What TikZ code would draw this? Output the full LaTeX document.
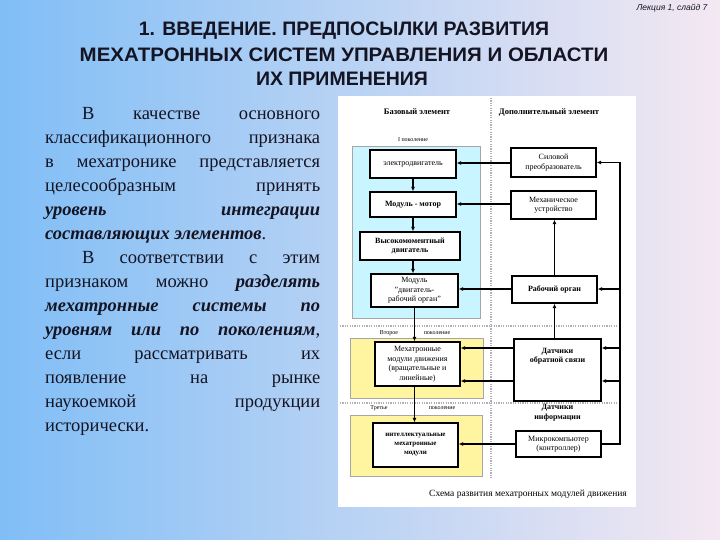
\documentclass[tikz,border=0pt]{standalone}
\usepackage{fontspec}
\setmainfont{Liberation Serif}
\setsansfont{Liberation Sans}
\usetikzlibrary{arrows.meta}
\definecolor{bgL}{RGB}{128,190,246}
\definecolor{bgR}{RGB}{244,232,242}
\definecolor{cyanreg}{RGB}{200,245,255}
\definecolor{yelreg}{RGB}{255,244,160}
\definecolor{txt}{RGB}{20,20,35}
\definecolor{dotc}{RGB}{175,175,185}
\begin{document}
\begin{tikzpicture}[x=1pt,y=-1pt,
  ln/.style={anchor=base west, inner sep=0, text=txt, font=\fontsize{18.5}{22}\selectfont},
  ttl/.style={inner sep=0, text=txt, font=\sffamily\bfseries\fontsize{19.5}{22}\selectfont},
  bx/.style={draw, line width=1.3pt, fill=white, inner sep=1pt, align=center, font=\fontsize{8}{9.5}\selectfont},
  lbl/.style={inner sep=0, align=center, font=\fontsize{8}{9.5}\selectfont},
  arr/.style={-{Latex[length=4.5pt,width=4pt]}, line width=1.3pt},
  ln2/.style={line width=1.3pt},
  sep/.style={dotc, line width=1.2pt, dash pattern=on 1.2pt off 1.2pt},
  region/.style={draw=gray!70, line width=0.6pt}]
\useasboundingbox (0,0) rectangle (720,540);
\shade[left color=bgL, right color=bgR] (0,0) rectangle (720,540);
% title
\node[ttl] (t1) at (344,31) {1. ВВЕДЕНИЕ. ПРЕДПОСЫЛКИ РАЗВИТИЯ};
\node[ttl, xscale=1.05] (t2) at (344,55) {МЕХАТРОННЫХ СИСТЕМ УПРАВЛЕНИЯ И ОБЛАСТИ};
\node[ttl] (t3) at (342,79) {ИХ ПРИМЕНЕНИЯ};
\node[inner sep=0, text=txt, font=\sffamily\itshape\fontsize{8.5}{10}\selectfont] (sl) at (672,8) {Лекция 1, слайд 7};
% left text
\node[ln] (l1) at (82,119.5) {\makebox[238pt][s]{В качестве основного}};
\node[ln] (l2) at (45,143.5) {\makebox[275pt][s]{классификационного признака}};
\node[ln] (l3) at (45,167.5) {\makebox[275pt][s]{в мехатронике представляется}};
\node[ln] (l4) at (45,191.5) {\makebox[275pt][s]{целесообразным принять}};
\node[ln] (l5) at (45,215.5) {\makebox[275pt][s]{\textbf{\textit{уровень интеграции}}}};
\node[ln] (l6) at (45,239.5) {\textbf{\textit{составляющих элементов}}.};
\node[ln] (l7) at (82,263.5) {\makebox[238pt][s]{В соответствии с этим}};
\node[ln] (l8) at (45,287.5) {\makebox[275pt][s]{признаком можно \textbf{\textit{разделять}}}};
\node[ln] (l9) at (45,311.5) {\makebox[275pt][s]{\textbf{\textit{мехатронные системы по}}}};
\node[ln] (l10) at (45,335.5) {\makebox[275pt][s]{\textbf{\textit{уровням или по поколениям}},}};
\node[ln] (l11) at (45,359.5) {\makebox[275pt][s]{если рассматривать их}};
\node[ln] (l12) at (45,383.5) {\makebox[275pt][s]{появление на рынке}};
\node[ln] (l13) at (45,407.5) {\makebox[275pt][s]{наукоемкой продукции}};
\node[ln] (l14) at (45,431.5) {исторически.};
% diagram panel
\fill[white] (338,96) rectangle (636,507);
\draw[region, fill=cyanreg] (352,146) rectangle (480,318);
\draw[region, fill=yelreg] (350,338) rectangle (483,398);
\draw[region, fill=yelreg] (350,415) rectangle (482,476);
\draw[sep] (491,98) -- (491,478);
\draw[sep] (340,326) -- (618,326);
\draw[sep] (340,403) -- (618,403);
\node[lbl, font=\bfseries\fontsize{8.5}{10}\selectfont] (hb) at (417,112) {Базовый элемент};
\node[lbl, font=\bfseries\fontsize{8.5}{10}\selectfont] (hd) at (549,112) {Дополнительный элемент};
\node[lbl, font=\fontsize{6}{7}\selectfont] (g1) at (413,140) {I поколение};
\node[lbl, font=\fontsize{6}{7}\selectfont] (g2a) at (389,333) {Второе};
\node[lbl, font=\fontsize{6}{7}\selectfont] (g2b) at (437,333) {поколение};
\node[lbl, font=\fontsize{6}{7}\selectfont] (g3a) at (379,408) {Третье};
\node[lbl, font=\fontsize{6}{7}\selectfont] (g3b) at (442,408) {поколение};
\node[lbl, font=\fontsize{9.5}{11}\selectfont] (cap) at (528,494) {Схема развития мехатронных модулей движения};
% left column boxes
\node[bx, minimum width=86pt, minimum height=28pt] (ed) at (413,164) {электродвигатель};
\node[bx, minimum width=86pt, minimum height=25pt] (mm) at (413,204.5) {\textbf{Модуль - мотор}};
\node[bx, minimum width=100pt, minimum height=28pt] (vd) at (410,246) {\textbf{Высокомоментный}\\\textbf{двигатель}};
\node[bx, minimum width=87pt, minimum height=33pt] (mdr) at (414.5,290.5) {Модуль\\"двигатель-\\рабочий орган"};
\node[bx, minimum width=85pt, minimum height=44pt] (mmd) at (417.5,364) {Мехатронные\\модули движения\\(вращательные и\\линейные)};
\node[bx, minimum width=85pt, minimum height=44pt, font=\bfseries\fontsize{7}{9}\selectfont] (imm) at (415.5,445) {интеллектуальные\\мехатронные\\модули};
% right column boxes
\node[bx, minimum width=85pt, minimum height=29pt] (sp) at (553.5,162.5) {Силовой\\преобразователь};
\node[bx, minimum width=85pt, minimum height=28pt] (mu) at (553.5,205) {Механическое\\устройство};
\node[bx, minimum width=85pt, minimum height=27pt] (ro) at (554.5,289.5) {\textbf{Рабочий орган}};
\node[bx, minimum width=87pt, minimum height=62pt] (dos) at (557.5,370) {};
\node[lbl, font=\bfseries\fontsize{8}{9.5}\selectfont] (dost) at (557.5,356) {Датчики\\обратной связи};
\node[lbl, font=\bfseries\fontsize{8}{9.5}\selectfont] (dinf) at (557.5,412.5) {Датчики\\информации};
\node[bx, minimum width=85pt, minimum height=26pt] (mk) at (558.5,444) {Микрокомпьютер\\(контроллер)};
% vertical arrows left
\draw[arr] (ed.south) -- (ed.south |- mm.north);
\draw[arr] (mm.south) -- (mm.south |- vd.north);
\draw[arr] (mm.south |- vd.south) -- (mm.south |- mdr.north);
\draw[arr] (mdr.south) -- (mdr.south |- mmd.north);
\draw[arr] (mdr.south |- mmd.south) -- (mdr.south |- imm.north);
% horizontal arrows
\coordinate (ya) at (0,163);
\coordinate (yb) at (0,204);
\coordinate (yc) at (0,289);
\coordinate (yd) at (0,348);
\coordinate (ye) at (0,381);
\coordinate (yf) at (0,444);
\draw[arr] (sp.west |- ya) -- (ed.east |- ya);
\draw[arr] (mu.west |- yb) -- (mm.east |- yb);
\draw[arr] (ro.west |- yc) -- (mdr.east |- yc);
\draw[arr] (dos.west |- yd) -- (mmd.east |- yd);
\draw[arr] (dos.west |- ye) -- (mmd.east |- ye);
\draw[arr] (mk.west |- yf) -- (imm.east |- yf);
% vertical arrows right
\draw[arr] (ro.north) -- (ro.north |- mu.south);
\draw[arr] (ro.south |- dos.north) -- (ro.south);
% bus
\coordinate (bus) at (620,0);
\draw[ln2] (mk.east) -- (bus |- mk.east) -- (bus |- sp.east);
\draw[arr] (bus |- sp.east) -- (sp.east);
\draw[arr] (bus |- yc) -- (ro.east |- yc);
\draw[arr] (bus |- yd) -- (dos.east |- yd);
\draw[arr] (bus |- ye) -- (dos.east |- ye);
\end{tikzpicture}
\end{document}
